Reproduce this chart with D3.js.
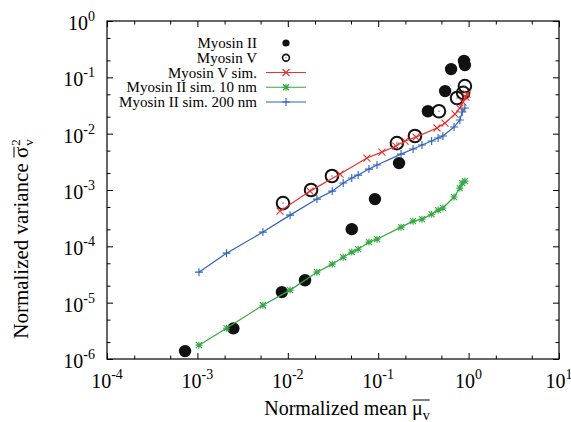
<!DOCTYPE html>
<html>
<head>
<meta charset="utf-8">
<script src="https://cdn.jsdelivr.net/npm/d3@7"></script>
<style>
  body { margin: 0; background: #fff; }
</style>
</head>
<body>
<svg id="chart" width="571" height="422" font-family="'Liberation Serif', 'Times New Roman', serif"></svg>
<script>
const myosinII_mu  = [7.3e-4, 2.5e-3, 8.6e-3, 0.0155, 0.051, 0.092, 0.17, 0.355, 0.55, 0.64, 0.89, 0.91];
const myosinII_var = [1.38e-6, 3.5e-6, 1.54e-5, 2.5e-5, 2.02e-4, 6.9e-4, 3.0e-3, 0.025, 0.057, 0.14, 0.195, 0.165];

const myosinV_mu  = [8.85e-3, 0.0181, 0.0308, 0.161, 0.255, 0.47, 0.745, 0.87, 0.91];
const myosinV_var = [5.85e-4, 1.0e-3, 1.77e-3, 6.8e-3, 9.1e-3, 0.025, 0.043, 0.053, 0.07];

// simulations
const simV_mu  = [8.2e-3, 0.0176, 0.0378, 0.075, 0.110, 0.157, 0.198, 0.262, 0.447, 0.548, 0.708, 0.80, 0.867, 0.935, 0.96];
const simV_var = [4.2e-4, 9.55e-4, 1.92e-3, 3.69e-3, 4.71e-3, 6.03e-3, 7.4e-3, 8.7e-3, 0.0126, 0.0154, 0.0223, 0.0285, 0.0364, 0.0447, 0.0505];

const simII_mu = [1.04e-3, 2.1e-3, 5.3e-3, 0.0106, 0.021, 0.031, 0.041, 0.051, 0.06, 0.079, 0.097, 0.179, 0.243, 0.305, 0.39, 0.46, 0.52, 0.69, 0.80, 0.85, 0.91];
const simII10_var  = [1.76e-6, 3.52e-6, 9.0e-6, 1.67e-5, 3.48e-5, 4.83e-5, 6.4e-5, 7.9e-5, 8.9e-5, 1.19e-4, 1.34e-4, 2.19e-4, 2.8e-4, 3.04e-4, 3.7e-4, 4.4e-4, 4.8e-4, 7.5e-4, 1.08e-3, 1.33e-3, 1.44e-3];
const simII200_var = [3.48e-5, 7.57e-5, 1.79e-4, 3.58e-4, 6.9e-4, 9.55e-4, 1.33e-3, 1.63e-3, 1.84e-3, 2.35e-3, 2.77e-3, 4.34e-3, 5.33e-3, 6.28e-3, 7.4e-3, 8.36e-3, 9.07e-3, 0.0131, 0.0175, 0.0242, 0.0285];

const xExponents = [-4, -3, -2, -1, 0, 1];
const yExponents = [-6, -5, -4, -3, -2, -1, 0];
const legendLabels = ["Myosin II", "Myosin V", "Myosin V sim.", "Myosin II sim. 10 nm", "Myosin II sim. 200 nm"];

const RED = "#e2332f", GREEN = "#33a843", BLUE = "#2f62bd";

const svg = d3.select("#chart");
const pl = 107, pr = 559, pt = 21, pb = 359;

const x = d3.scaleLog().domain([1e-4, 10]).range([pl, pr]);
const y = d3.scaleLog().domain([1e-6, 1]).range([pb, pt]);

// minor ticks at 2 and 5 of each decade
const xMajor = xExponents.map(e => Math.pow(10, e));
const yMajor = yExponents.map(e => Math.pow(10, e));
const xMinor = xMajor.slice(0, -1).flatMap(v => [2 * v, 5 * v]);
const yMinor = yMajor.slice(0, -1).flatMap(v => [2 * v, 5 * v]);

function ticks(axis, vals, size) {
  return axis.tickValues(vals).tickSizeInner(-size).tickSizeOuter(0).tickFormat("");
}
function drawAxis(gen, tx, ty) {
  const g = svg.append("g").attr("transform", `translate(${tx},${ty})`).call(gen);
  g.select(".domain").remove();
  g.selectAll("line").attr("stroke", "#000").attr("stroke-width", 1);
  return g;
}
// all four sides, ticks pointing inwards
[[xMajor, 6], [xMinor, 3.5]].forEach(([v, s]) => {
  drawAxis(ticks(d3.axisBottom(x), v, s), 0, pb);
  drawAxis(ticks(d3.axisTop(x), v, s), 0, pt);
});
[[yMajor, 6], [yMinor, 3.5]].forEach(([v, s]) => {
  drawAxis(ticks(d3.axisLeft(y), v, s), pl, 0);
  drawAxis(ticks(d3.axisRight(y), v, s), pr, 0);
});

svg.append("rect")
  .attr("x", pl).attr("y", pt)
  .attr("width", pr - pl).attr("height", pb - pt)
  .attr("fill", "none").attr("stroke", "#000").attr("stroke-width", 1.2);

// tick labels 10^n
const xl = svg.selectAll(".xl").data(xExponents).join("text")
  .attr("class", "xl")
  .attr("x", d => x(Math.pow(10, d)))
  .attr("y", 388)
  .attr("text-anchor", "middle")
  .attr("font-size", 20);
xl.append("tspan").text("10");
xl.append("tspan").attr("dy", -9).attr("font-size", 14).text(d => d < 0 ? "-" + (-d) : d);

const yl = svg.selectAll(".yl").data(yExponents).join("text")
  .attr("class", "yl")
  .attr("x", 95)
  .attr("y", d => y(Math.pow(10, d)) + 9)
  .attr("text-anchor", "end")
  .attr("font-size", 20);
yl.append("tspan").text("10");
yl.append("tspan").attr("dy", -9).attr("font-size", 14).text(d => d < 0 ? "-" + (-d) : d);

// overline across characters [i0, i1] of a text element
function overline(g, textEl, i0, i1, rise) {
  const node = textEl.node();
  const a = node.getExtentOfChar(i0), b = node.getExtentOfChar(i1);
  const base = node.getStartPositionOfChar(i0).y;
  g.append("line")
    .attr("x1", a.x + 0.5).attr("x2", b.x + b.width)
    .attr("y1", base - rise).attr("y2", base - rise)
    .attr("stroke", "#000").attr("stroke-width", 1);
}

// axis titles
const xg = svg.append("g");
const xt = xg.append("text")
  .attr("x", 347).attr("y", 415)
  .attr("text-anchor", "middle")
  .attr("font-size", 20);
xt.append("tspan").text("Normalized mean ");
xt.append("tspan").text("\u03bc");
xt.append("tspan").attr("dy", 5).attr("font-size", 14).text("v");
overline(xg, xt, 16, 17, 15);

const yg = svg.append("g").attr("transform", "translate(28,239) rotate(-90)");
const yt = yg.append("text")
  .attr("text-anchor", "middle")
  .attr("font-size", 21);
yt.append("tspan").text("Normalized variance ");
yt.append("tspan").text("\u03c3");
yt.append("tspan").attr("dx", 1).attr("dy", -8).attr("font-size", 13).text("2");
yt.append("tspan").attr("dx", -6.5).attr("dy", 13).attr("font-size", 13).text("v");
overline(yg, yt, 20, 20, 14);

// marker shapes
function cross(s) {
  return `M${-s},${-s}L${s},${s}M${-s},${s}L${s},${-s}`;
}
function plus(s) {
  return `M${-s},0L${s},0M0,${-s}L0,${s}`;
}
const markX = cross(3.5);
const markPlus = plus(4);
const markStar = plus(3.5) + cross(3);

const plot = svg.append("g");

// experimental points
plot.selectAll(".m2").data(d3.zip(myosinII_mu, myosinII_var)).join("circle")
  .attr("cx", d => x(d[0])).attr("cy", d => y(d[1])).attr("r", 6.2)
  .attr("fill", "#111");

const mv = plot.selectAll(".m5").data(d3.zip(myosinV_mu, myosinV_var)).join("g")
  .attr("transform", d => `translate(${x(d[0])},${y(d[1])})`);
mv.append("circle").attr("r", 6.3).attr("fill", "none").attr("stroke", "#111").attr("stroke-width", 2);
mv.append("circle").attr("r", 0.8).attr("fill", "#777");

// simulation curves
const line = d3.line().x(d => x(d[0])).y(d => y(d[1]));
const sims = [
  { mu: simV_mu, v: simV_var, color: RED, mark: markX },
  { mu: simII_mu, v: simII10_var, color: GREEN, mark: markStar },
  { mu: simII_mu, v: simII200_var, color: BLUE, mark: markPlus }
];
sims.forEach(s => {
  const pts = d3.zip(s.mu, s.v);
  plot.append("path").datum(pts).attr("d", line)
    .attr("fill", "none").attr("stroke", s.color).attr("stroke-width", 1.2);
  plot.append("g").selectAll("path").data(pts).join("path")
    .attr("transform", d => `translate(${x(d[0])},${y(d[1])})`)
    .attr("d", s.mark).attr("stroke", s.color).attr("stroke-width", 1.1).attr("fill", "none");
});

// legend
const legend = svg.append("g");
const legY = d3.scaleLinear().domain([0, 4]).range([43, 102]);
legend.selectAll("text").data(legendLabels).join("text")
  .attr("x", 257).attr("y", (d, i) => legY(i) + 5)
  .attr("text-anchor", "end")
  .attr("font-size", 15)
  .text(d => d);

legend.append("circle").attr("cx", 286).attr("cy", legY(0)).attr("r", 3.6).attr("fill", "#111");
legend.append("circle").attr("cx", 286).attr("cy", legY(1)).attr("r", 3.4)
  .attr("fill", "none").attr("stroke", "#111").attr("stroke-width", 1.6);
legend.append("circle").attr("cx", 286).attr("cy", legY(1)).attr("r", 0.7).attr("fill", "#777");
sims.forEach((s, i) => {
  const yy = legY(i + 2);
  legend.append("line").attr("x1", 266).attr("x2", 306).attr("y1", yy).attr("y2", yy)
    .attr("stroke", s.color).attr("stroke-width", 1.2);
  legend.append("path").attr("transform", `translate(286,${yy})`).attr("d", s.mark)
    .attr("stroke", s.color).attr("stroke-width", 1.1).attr("fill", "none");
});
</script>
</body>
</html>
